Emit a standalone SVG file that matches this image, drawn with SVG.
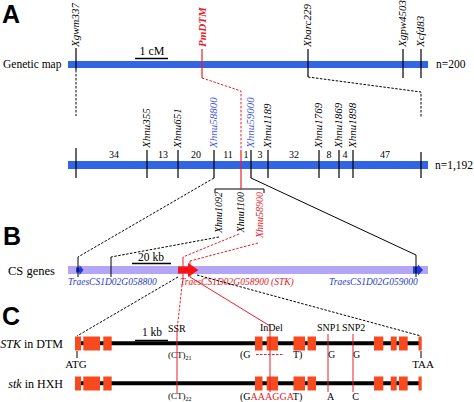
<svg xmlns="http://www.w3.org/2000/svg" width="474" height="402" viewBox="0 0 474 402">
<style>
text{font-family:"Liberation Serif","Times New Roman",serif;fill:#000}
.pl{font-family:"Liberation Sans",Arial,sans-serif;font-weight:bold;font-size:25px}
.lab{font-size:11.5px}
.mk{font-size:11px;font-style:italic}
.mk2{font-size:10px;font-style:italic}
.num{font-size:10px;text-anchor:middle}
.ann{font-size:10px}
.gb{font-size:9.5px;font-style:italic;fill:#2a3cc8}
.red{fill:#e3222b}
.blue{fill:#4052e0}
.tick{stroke:#000;stroke-width:1.2;fill:none}
.rtick{stroke:#e8202a;stroke-width:1.2;fill:none}
.dash{stroke:#000;stroke-width:1;stroke-dasharray:2.5 1.5;fill:none}
.rdash{stroke:#e8202a;stroke-width:1;stroke-dasharray:2.5 1.5;fill:none}
.line{stroke:#000;stroke-width:1;fill:none}
.rline{stroke:#e8202a;stroke-width:1;fill:none}
.ex{fill:#f84a1e}
.scale{stroke:#000;stroke-width:1.6}
.gm{fill:#3264e6}
</style>

<g id="panel-labels">
<text class="pl" x="2" y="23">A</text>
<text class="pl" x="3" y="245">B</text>
<text class="pl" x="2" y="325">C</text>
</g>

<g id="genetic-map">
<text class="lab" x="3" y="68">Genetic map</text>
<rect class="gm" x="68" y="61" width="360" height="7"/>
<text class="lab" x="436" y="68">n=200</text>
<line class="scale" x1="135" y1="58.5" x2="168" y2="58.5"/>
<text x="152" y="55" font-size="12" text-anchor="middle">1 cM</text>
<line class="tick" x1="76" y1="48" x2="76" y2="70"/>
<line class="tick" x1="308" y1="49" x2="308" y2="77"/>
<line class="tick" x1="403" y1="49" x2="403" y2="78"/>
<line class="tick" x1="421" y1="49" x2="421" y2="78"/>
<line class="rtick" x1="202" y1="49" x2="202" y2="78"/>
<text class="mk" transform="translate(79,47) rotate(-90)">Xgwm337</text>
<text class="mk red" font-weight="bold" transform="translate(205.5,47) rotate(-90)">PmDTM</text>
<text class="mk" transform="translate(311,47) rotate(-90)">Xbarc229</text>
<text class="mk" transform="translate(406,47) rotate(-90)">Xgpw4503</text>
<text class="mk" transform="translate(424,47) rotate(-90)">Xcfd83</text>
</g>

<g id="physical-map">
<rect class="gm" x="68" y="161" width="360" height="8"/>
<text class="lab" x="435" y="169">n=1,192</text>
<line class="tick" x1="76" y1="148" x2="76" y2="178"/>
<line class="tick" x1="147" y1="150" x2="147" y2="178"/>
<line class="tick" x1="178" y1="150" x2="178" y2="178"/>
<line class="tick" x1="214" y1="150" x2="214" y2="178"/>
<line class="tick" x1="251" y1="150" x2="251" y2="178"/>
<line class="tick" x1="268" y1="150" x2="268" y2="178"/>
<line class="tick" x1="319" y1="150" x2="319" y2="178"/>
<line class="tick" x1="339" y1="150" x2="339" y2="178"/>
<line class="tick" x1="353" y1="150" x2="353" y2="178"/>
<line class="tick" x1="421" y1="152" x2="421" y2="178"/>
<text class="mk" transform="translate(150,148) rotate(-90)">Xhnu355</text>
<text class="mk" transform="translate(181,148) rotate(-90)">Xhnu651</text>
<text class="mk blue" transform="translate(217,148) rotate(-90)">Xhnu58800</text>
<text class="mk blue" transform="translate(254,148) rotate(-90)">Xhnu59000</text>
<text class="mk" transform="translate(271,148) rotate(-90)">Xhnu1189</text>
<text class="mk" transform="translate(322,148) rotate(-90)">Xhnu1769</text>
<text class="mk" transform="translate(342,148) rotate(-90)">Xhnu1869</text>
<text class="mk" transform="translate(356,148) rotate(-90)">Xhnu1898</text>
<text class="num" x="114" y="158">34</text>
<text class="num" x="163" y="158">13</text>
<text class="num" x="196" y="158">20</text>
<text class="num" x="228" y="158">11</text>
<text class="num" x="246" y="158">1</text>
<text class="num" x="260" y="158">3</text>
<text class="num" x="294" y="158">32</text>
<text class="num" x="329" y="158">8</text>
<text class="num" x="345" y="158">4</text>
<text class="num" x="385" y="158">47</text>
</g>

<g id="fine-markers">
<path class="line" d="M215,193 V189 H264 V193"/>
<text class="mk2" text-anchor="end" transform="translate(221.5,192) rotate(-90)">Xhnu1092</text>
<text class="mk2" text-anchor="end" transform="translate(243.5,192) rotate(-90)">Xhnu1100</text>
<text class="mk2 red" text-anchor="end" transform="translate(263,192) rotate(-90)">Xhnu58900</text>
</g>

<g id="cs-genes">
<text x="8" y="275" font-size="12.5">CS genes</text>
<rect x="68" y="266" width="360" height="8" fill="#b3a6f6"/>
<line class="scale" x1="132" y1="263.5" x2="171" y2="263.5"/>
<text x="151" y="260.5" font-size="11.5" text-anchor="middle">20 kb</text>
<polygon points="76,267.5 79.5,267.5 79.5,265 83.5,270 79.5,275 79.5,272.5 76,272.5" fill="#1e3ad8"/>
<polygon points="413,266.5 418,266.5 418,264.5 423,270 418,275.5 418,273.5 413,273.5" fill="#1e3ad8"/>
<polygon points="178,266.5 188,266.5 188,263 198.5,270 188,277 188,273.5 178,273.5" fill="#ff1010"/>
<text class="gb" x="68" y="285">TraesCS1D02G058800</text>
<text class="gb red" x="180" y="285" font-size="9.7">TraesCS1D02G058900 (STK)</text>
<text class="gb" x="329" y="285">TraesCS1D02G059000</text>
</g>

<g id="connectors">
<path class="dash" d="M76,70 V116"/>
<path class="dash" d="M308,77 L421,92 V118"/>
<path class="rdash" d="M202,78 L241,91 V150"/>
<path class="rtick" d="M241,150 V190"/>
<path class="dash" d="M214,178 L78,257"/>
<path class="line" d="M78,257 V277"/>
<path class="line" d="M251,178 L416,255 V277"/>
<path class="dash" d="M219,237 L111,257"/>
<path class="line" d="M111,257 V277"/>
<path class="rdash" d="M239,234 L183,257"/>
<path class="rline" d="M183,257 V277"/>
<path class="rdash" d="M183,277 L177,330"/>
<path class="rdash" d="M258,243 L190,261"/>
<path class="rline" d="M190,261 V277 L270,326"/>
<path class="dash" d="M178,277 L77,336"/>
<path class="dash" d="M197,275 L421,336"/>
</g>

<g id="gene-dtm">
<text x="63" y="348" font-size="12" text-anchor="end"><tspan font-style="italic">STK</tspan> in DTM</text>
<line x1="76" y1="343.3" x2="421" y2="343.3" stroke="#000" stroke-width="4"/>
<g class="ex">
<rect x="75" y="336.5" width="6" height="14"/>
<rect x="83.3" y="336.5" width="16.7" height="14"/>
<rect x="103.3" y="336.5" width="8.4" height="14"/>
<rect x="255" y="336.5" width="7.5" height="14"/>
<rect x="266.7" y="336.5" width="11.3" height="14"/>
<rect x="293.5" y="336.5" width="11.5" height="14"/>
<rect x="307.5" y="336.5" width="8.5" height="14"/>
<rect x="374" y="336.5" width="9.3" height="14"/>
<rect x="390.8" y="336.5" width="5.9" height="14"/>
<rect x="399" y="336.5" width="8.7" height="14"/>
<rect x="418.5" y="336.5" width="3.2" height="14"/>
</g>
<line class="line" x1="77" y1="351" x2="77" y2="358"/>
<text x="76" y="368" font-size="11" text-anchor="middle">ATG</text>
<line class="line" x1="421" y1="351" x2="421" y2="358"/>
<text x="423" y="368" font-size="11" text-anchor="middle">TAA</text>
<line class="scale" x1="135" y1="340.5" x2="168" y2="340.5"/>
<text x="152" y="336" font-size="11.5" text-anchor="middle">1 kb</text>
<text class="ann" x="168" y="332">SSR</text>
<text class="ann" x="260" y="331">InDel</text>
<text class="ann" x="317" y="331">SNP1</text>
<text class="ann" x="342" y="331">SNP2</text>
<text x="168" y="358" font-size="9">(CT)<tspan font-size="6" dy="2">21</tspan></text>
<text class="ann" x="240" y="358">(G</text>
<line class="rdash" x1="256" y1="354.5" x2="284" y2="354.5"/>
<text class="ann" x="293" y="358">T)</text>
<text class="ann" x="331.5" y="358" text-anchor="middle">G</text>
<text class="ann" x="356.5" y="358" text-anchor="middle">G</text>
</g>

<g id="gene-hxh">
<text x="63" y="388" font-size="12" text-anchor="end"><tspan font-style="italic">stk</tspan> in HXH</text>
<line x1="76" y1="383.3" x2="421" y2="383.3" stroke="#000" stroke-width="4"/>
<g class="ex">
<rect x="75" y="376.5" width="6" height="14"/>
<rect x="83.3" y="376.5" width="16.7" height="14"/>
<rect x="103.3" y="376.5" width="8.4" height="14"/>
<rect x="255" y="376.5" width="7.5" height="14"/>
<rect x="266.7" y="376.5" width="11.3" height="14"/>
<rect x="293.5" y="376.5" width="11.5" height="14"/>
<rect x="307.5" y="376.5" width="8.5" height="14"/>
<rect x="374" y="376.5" width="9.3" height="14"/>
<rect x="390.8" y="376.5" width="5.9" height="14"/>
<rect x="399" y="376.5" width="8.7" height="14"/>
<rect x="418.5" y="376.5" width="3.2" height="14"/>
</g>
<text x="168" y="399" font-size="9">(CT)<tspan font-size="6" dy="2">22</tspan></text>
<text class="ann" x="240" y="400">(G<tspan class="red">AAAGGA</tspan>T)</text>
<text class="ann" x="330.5" y="400" text-anchor="middle">A</text>
<text class="ann" x="355.5" y="400" text-anchor="middle">C</text>
</g>

<g id="variant-lines">
<line class="rline" x1="177" y1="330" x2="177" y2="393"/>
<line class="rline" x1="270" y1="326" x2="270" y2="392"/>
<line class="rline" x1="328" y1="334" x2="328" y2="392"/>
<line class="rline" x1="353" y1="334" x2="353" y2="392"/>
</g>
</svg>
